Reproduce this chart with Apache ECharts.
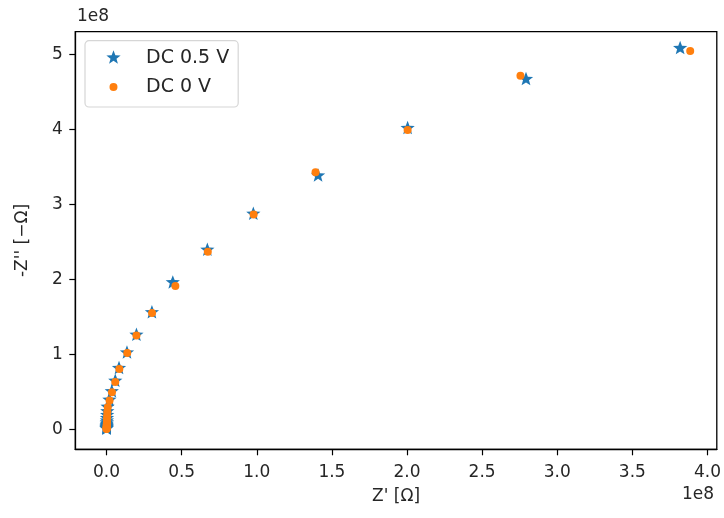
<!DOCTYPE html>
<html>
<head>
<meta charset="utf-8">
<script src="https://cdn.jsdelivr.net/npm/echarts@6/dist/echarts.min.js"></script>
<style>html,body{margin:0;padding:0;background:#fff;}#c{width:724px;height:518px;}</style>
</head>
<body>
<div id="c"></div>
<script>
// DC 0.5 V  (Z' and -Z'' in Ohm)
const zReal05 = [3.818e8, 2.792e8, 2.004e8, 1.408e8, 0.977e8, 0.671e8, 0.441e8, 0.302e8, 0.199e8, 0.136e8, 0.083e8, 0.058e8, 0.035e8, 0.019e8, 0.007e8, 0.005e8, 0.004e8, 0.003e8, 0.0025e8, 0.002e8, 0.0015e8, 0.001e8, 0.001e8, 0.0008e8, 0.0005e8, 0.0003e8, 0.0002e8, 0.0001e8];
const zImag05 = [5.08e8, 4.667e8, 4.013e8, 3.381e8, 2.871e8, 2.391e8, 1.955e8, 1.557e8, 1.257e8, 1.021e8, 0.813e8, 0.644e8, 0.504e8, 0.39e8, 0.297e8, 0.235e8, 0.185e8, 0.145e8, 0.113e8, 0.088e8, 0.068e8, 0.052e8, 0.040e8, 0.030e8, 0.022e8, 0.015e8, 0.010e8, 0.005e8];
// DC 0 V
const zReal0 = [3.885e8, 2.755e8, 2.004e8, 1.391e8, 0.979e8, 0.674e8, 0.458e8, 0.303e8, 0.199e8, 0.138e8, 0.085e8, 0.058e8, 0.036e8, 0.020e8, 0.008e8, 0.005e8, 0.004e8, 0.003e8, 0.0025e8, 0.002e8, 0.0015e8, 0.001e8, 0.001e8, 0.0008e8, 0.0005e8, 0.0003e8, 0.0002e8, 0.0001e8];
const zImag0 = [5.044e8, 4.715e8, 3.991e8, 3.427e8, 2.864e8, 2.368e8, 1.911e8, 1.551e8, 1.251e8, 1.017e8, 0.804e8, 0.631e8, 0.495e8, 0.385e8, 0.295e8, 0.232e8, 0.182e8, 0.142e8, 0.110e8, 0.086e8, 0.066e8, 0.050e8, 0.038e8, 0.028e8, 0.020e8, 0.013e8, 0.008e8, 0.004e8];
const seriesNames = ['DC 0.5 V', 'DC 0 V'];
const xTicks = [0, 0.5e8, 1.0e8, 1.5e8, 2.0e8, 2.5e8, 3.0e8, 3.5e8, 4.0e8];
const yTicks = [0, 1e8, 2e8, 3e8, 4e8, 5e8];

const FONT = 'DejaVu Sans';
const TXT = '#262626';
function pairs(xs, ys) { return xs.map((x, i) => [x, ys[i]]); }

// five-point star path (matplotlib-like '*'), padded so its box is a square centred on the star
function starPath() {
  const R = 10, r = R * 0.42, c = 10;
  let d = 'path://M0,0M20,20';
  for (let i = 0; i < 10; i++) {
    const a = -Math.PI / 2 + i * Math.PI / 5;
    const rad = i % 2 === 0 ? R : r;
    d += (i === 0 ? 'M' : 'L') + (c + rad * Math.cos(a)).toFixed(3) + ',' + (c + rad * Math.sin(a)).toFixed(3);
  }
  return d + 'Z';
}
const STAR = starPath();

const chart = echarts.init(document.getElementById('c'), null, { renderer: 'canvas' });
chart.setOption({
  animation: false,
  backgroundColor: '#fff',
  textStyle: { fontFamily: FONT },
  grid: { left: 75.3, right: 4, top: 31.7, bottom: 68.7, show: true, borderColor: '#000', borderWidth: 1.3, backgroundColor: 'transparent' },
  xAxis: {
    type: 'value', min: -0.208e8, max: 4.062e8,
    name: "Z' [Ω]", nameLocation: 'middle', nameGap: 39,
    nameTextStyle: { fontFamily: FONT, fontSize: 17, color: TXT },
    axisLine: { show: true, onZero: false, lineStyle: { color: '#000', width: 1.3 } },
    axisTick: { show: true, length: 6, customValues: xTicks, lineStyle: { color: '#000', width: 1.2 } },
    axisLabel: { customValues: xTicks, margin: 15, fontFamily: FONT, fontSize: 17, color: TXT,
      formatter: v => (v / 1e8).toFixed(1) },
    splitLine: { show: false }
  },
  yAxis: {
    type: 'value', min: -0.267e8, max: 5.301e8,
    name: "-Z'' [−Ω]", nameLocation: 'middle', nameGap: 44,
    nameTextStyle: { fontFamily: FONT, fontSize: 17, color: TXT },
    axisLine: { show: true, onZero: false, lineStyle: { color: '#000', width: 1.3 } },
    axisTick: { show: true, length: 6, customValues: yTicks, lineStyle: { color: '#000', width: 1.2 } },
    axisLabel: { customValues: yTicks, margin: 12.6, fontFamily: FONT, fontSize: 17, color: TXT,
      formatter: v => String(Math.round(v / 1e8)) },
    splitLine: { show: false }
  },
  legend: {
    orient: 'vertical', left: 85, top: 40.7,
    padding: [6, 9, 9, 21],
    itemWidth: 15, itemHeight: 15, itemGap: 7.3,
    backgroundColor: '#fff', borderColor: '#d6d6d6', borderWidth: 1.2, borderRadius: 4,
    textStyle: { fontFamily: FONT, fontSize: 19, color: TXT, lineHeight: 22, padding: [0, 0, 0, 20] },
    data: [
      { name: seriesNames[0], icon: STAR },
      { name: seriesNames[1], icon: 'path://M0,0M15,15M7.5,3.5A4,4,0,1,1,7.49,3.5Z' }
    ]
  },
  graphic: [
    { type: 'text', left: 77, top: 8, style: { text: '1e8', font: '17px "DejaVu Sans"', fill: TXT } },
    { type: 'text', right: 10, top: 486, style: { text: '1e8', font: '17px "DejaVu Sans"', fill: TXT } }
  ],
  series: [
    { name: seriesNames[0], type: 'scatter', symbol: STAR, symbolSize: 15, symbolKeepAspect: true,
      itemStyle: { color: '#1f77b4', opacity: 1 }, data: pairs(zReal05, zImag05), z: 2 },
    { name: seriesNames[1], type: 'scatter', symbol: 'circle', symbolSize: 8,
      itemStyle: { color: '#ff7f0e', opacity: 1 }, data: pairs(zReal0, zImag0), z: 3 }
  ]
});
</script>
</body>
</html>
